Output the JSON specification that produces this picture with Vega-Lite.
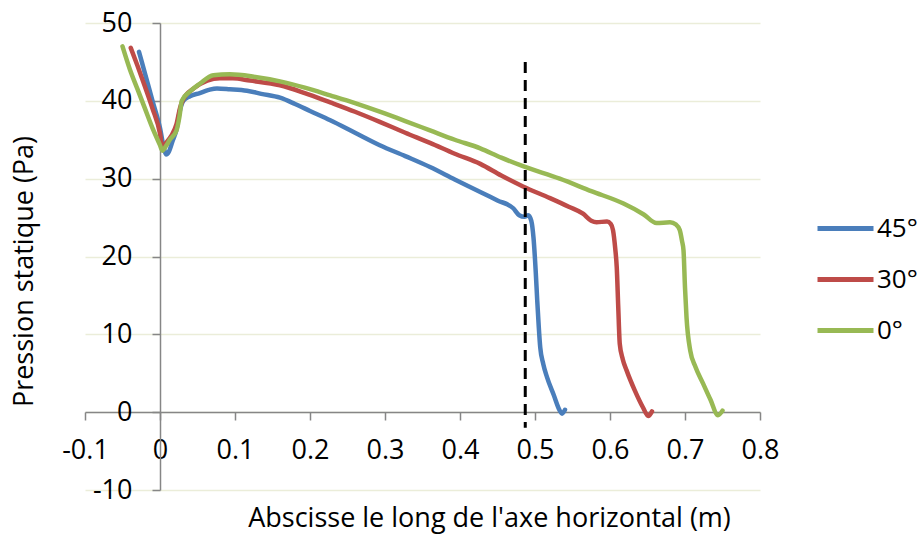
{
  "$schema": "https://vega.github.io/schema/vega-lite/v6.json",
  "width": 675,
  "height": 467,
  "autosize": {"type": "none"},
  "padding": {"left": 85, "top": 23, "right": 157, "bottom": 48},
  "background": "white",
  "config": {
    "view": {"stroke": null},
    "font": "Open Sans",
    "axis": {"labelFont": "Open Sans", "titleFont": "Open Sans", "labelFontSize": 27, "titleFontSize": 27, "labelColor": "#000000", "titleColor": "#000000", "titleFontWeight": "normal", "domainColor": "#868686", "tickColor": "#868686", "domainWidth": 1.5, "tickWidth": 1.5, "tickSize": 8, "gridColor": "#EBEDD9", "gridWidth": 1.5},
    "legend": {"labelFont": "Open Sans", "labelFontSize": 26, "labelColor": "#000000"}
  },
  "datasets": {
    "curves": [
      {"x": -0.028, "p": 46.3, "angle": "45°"},
      {"x": -0.02, "p": 43.5, "angle": "45°"},
      {"x": -0.01, "p": 40.0, "angle": "45°"},
      {"x": 0.0, "p": 36.5, "angle": "45°"},
      {"x": 0.005, "p": 34.0, "angle": "45°"},
      {"x": 0.008, "p": 33.1, "angle": "45°"},
      {"x": 0.012, "p": 33.5, "angle": "45°"},
      {"x": 0.017, "p": 34.9, "angle": "45°"},
      {"x": 0.022, "p": 36.3, "angle": "45°"},
      {"x": 0.026, "p": 38.5, "angle": "45°"},
      {"x": 0.031, "p": 40.0, "angle": "45°"},
      {"x": 0.04, "p": 40.6, "angle": "45°"},
      {"x": 0.053, "p": 41.0, "angle": "45°"},
      {"x": 0.065, "p": 41.4, "angle": "45°"},
      {"x": 0.076, "p": 41.6, "angle": "45°"},
      {"x": 0.093, "p": 41.5, "angle": "45°"},
      {"x": 0.116, "p": 41.3, "angle": "45°"},
      {"x": 0.135, "p": 40.9, "angle": "45°"},
      {"x": 0.16, "p": 40.4, "angle": "45°"},
      {"x": 0.18, "p": 39.6, "angle": "45°"},
      {"x": 0.2, "p": 38.7, "angle": "45°"},
      {"x": 0.227, "p": 37.5, "angle": "45°"},
      {"x": 0.26, "p": 35.9, "angle": "45°"},
      {"x": 0.293, "p": 34.3, "angle": "45°"},
      {"x": 0.327, "p": 32.9, "angle": "45°"},
      {"x": 0.36, "p": 31.5, "angle": "45°"},
      {"x": 0.393, "p": 29.9, "angle": "45°"},
      {"x": 0.427, "p": 28.3, "angle": "45°"},
      {"x": 0.45, "p": 27.2, "angle": "45°"},
      {"x": 0.471, "p": 26.2, "angle": "45°"},
      {"x": 0.479, "p": 25.3, "angle": "45°"},
      {"x": 0.486, "p": 25.1, "angle": "45°"},
      {"x": 0.491, "p": 25.3, "angle": "45°"},
      {"x": 0.495, "p": 24.6, "angle": "45°"},
      {"x": 0.498, "p": 22.4, "angle": "45°"},
      {"x": 0.501, "p": 18.0, "angle": "45°"},
      {"x": 0.503, "p": 14.3, "angle": "45°"},
      {"x": 0.505, "p": 11.0, "angle": "45°"},
      {"x": 0.507, "p": 8.3, "angle": "45°"},
      {"x": 0.511, "p": 6.2, "angle": "45°"},
      {"x": 0.516, "p": 4.5, "angle": "45°"},
      {"x": 0.525, "p": 2.2, "angle": "45°"},
      {"x": 0.533, "p": 0.2, "angle": "45°"},
      {"x": 0.536, "p": -0.2, "angle": "45°"},
      {"x": 0.54, "p": 0.3, "angle": "45°"},
      {"x": -0.039, "p": 46.8, "angle": "30°"},
      {"x": -0.03, "p": 44.5, "angle": "30°"},
      {"x": -0.02, "p": 41.8, "angle": "30°"},
      {"x": -0.01, "p": 39.0, "angle": "30°"},
      {"x": 0.0, "p": 35.8, "angle": "30°"},
      {"x": 0.003, "p": 34.1, "angle": "30°"},
      {"x": 0.008, "p": 34.6, "angle": "30°"},
      {"x": 0.015, "p": 35.5, "angle": "30°"},
      {"x": 0.022, "p": 37.0, "angle": "30°"},
      {"x": 0.027, "p": 39.2, "angle": "30°"},
      {"x": 0.031, "p": 40.2, "angle": "30°"},
      {"x": 0.045, "p": 41.6, "angle": "30°"},
      {"x": 0.063, "p": 42.6, "angle": "30°"},
      {"x": 0.08, "p": 42.9, "angle": "30°"},
      {"x": 0.097, "p": 42.9, "angle": "30°"},
      {"x": 0.12, "p": 42.6, "angle": "30°"},
      {"x": 0.16, "p": 42.0, "angle": "30°"},
      {"x": 0.193, "p": 41.0, "angle": "30°"},
      {"x": 0.227, "p": 39.8, "angle": "30°"},
      {"x": 0.26, "p": 38.6, "angle": "30°"},
      {"x": 0.293, "p": 37.3, "angle": "30°"},
      {"x": 0.327, "p": 35.9, "angle": "30°"},
      {"x": 0.36, "p": 34.6, "angle": "30°"},
      {"x": 0.393, "p": 33.2, "angle": "30°"},
      {"x": 0.427, "p": 31.9, "angle": "30°"},
      {"x": 0.455, "p": 30.4, "angle": "30°"},
      {"x": 0.484, "p": 29.0, "angle": "30°"},
      {"x": 0.52, "p": 27.5, "angle": "30°"},
      {"x": 0.545, "p": 26.4, "angle": "30°"},
      {"x": 0.564, "p": 25.5, "angle": "30°"},
      {"x": 0.575, "p": 24.6, "angle": "30°"},
      {"x": 0.582, "p": 24.4, "angle": "30°"},
      {"x": 0.596, "p": 24.5, "angle": "30°"},
      {"x": 0.601, "p": 24.2, "angle": "30°"},
      {"x": 0.604, "p": 23.4, "angle": "30°"},
      {"x": 0.607, "p": 21.0, "angle": "30°"},
      {"x": 0.609, "p": 18.6, "angle": "30°"},
      {"x": 0.611, "p": 13.5, "angle": "30°"},
      {"x": 0.613, "p": 8.8, "angle": "30°"},
      {"x": 0.617, "p": 6.8, "angle": "30°"},
      {"x": 0.622, "p": 5.4, "angle": "30°"},
      {"x": 0.633, "p": 2.8, "angle": "30°"},
      {"x": 0.644, "p": 0.6, "angle": "30°"},
      {"x": 0.651, "p": -0.5, "angle": "30°"},
      {"x": 0.656, "p": 0.1, "angle": "30°"},
      {"x": -0.05, "p": 47.0, "angle": "0°"},
      {"x": -0.04, "p": 44.0, "angle": "0°"},
      {"x": -0.03, "p": 41.5, "angle": "0°"},
      {"x": -0.02, "p": 39.0, "angle": "0°"},
      {"x": -0.01, "p": 36.5, "angle": "0°"},
      {"x": 0.0, "p": 34.3, "angle": "0°"},
      {"x": 0.003, "p": 33.6, "angle": "0°"},
      {"x": 0.008, "p": 34.2, "angle": "0°"},
      {"x": 0.013, "p": 35.0, "angle": "0°"},
      {"x": 0.022, "p": 36.2, "angle": "0°"},
      {"x": 0.026, "p": 38.0, "angle": "0°"},
      {"x": 0.029, "p": 40.0, "angle": "0°"},
      {"x": 0.04, "p": 41.2, "angle": "0°"},
      {"x": 0.053, "p": 42.2, "angle": "0°"},
      {"x": 0.071, "p": 43.3, "angle": "0°"},
      {"x": 0.093, "p": 43.4, "angle": "0°"},
      {"x": 0.125, "p": 43.1, "angle": "0°"},
      {"x": 0.16, "p": 42.5, "angle": "0°"},
      {"x": 0.193, "p": 41.7, "angle": "0°"},
      {"x": 0.227, "p": 40.7, "angle": "0°"},
      {"x": 0.26, "p": 39.7, "angle": "0°"},
      {"x": 0.293, "p": 38.6, "angle": "0°"},
      {"x": 0.327, "p": 37.4, "angle": "0°"},
      {"x": 0.36, "p": 36.2, "angle": "0°"},
      {"x": 0.393, "p": 35.0, "angle": "0°"},
      {"x": 0.427, "p": 33.9, "angle": "0°"},
      {"x": 0.455, "p": 32.7, "angle": "0°"},
      {"x": 0.484, "p": 31.6, "angle": "0°"},
      {"x": 0.533, "p": 30.0, "angle": "0°"},
      {"x": 0.575, "p": 28.4, "angle": "0°"},
      {"x": 0.618, "p": 26.8, "angle": "0°"},
      {"x": 0.645, "p": 25.4, "angle": "0°"},
      {"x": 0.662, "p": 24.3, "angle": "0°"},
      {"x": 0.68, "p": 24.4, "angle": "0°"},
      {"x": 0.688, "p": 24.1, "angle": "0°"},
      {"x": 0.693, "p": 23.4, "angle": "0°"},
      {"x": 0.696, "p": 22.0, "angle": "0°"},
      {"x": 0.698, "p": 20.8, "angle": "0°"},
      {"x": 0.7, "p": 16.0, "angle": "0°"},
      {"x": 0.702, "p": 12.2, "angle": "0°"},
      {"x": 0.707, "p": 7.9, "angle": "0°"},
      {"x": 0.714, "p": 5.8, "angle": "0°"},
      {"x": 0.724, "p": 3.7, "angle": "0°"},
      {"x": 0.734, "p": 1.6, "angle": "0°"},
      {"x": 0.744, "p": -0.4, "angle": "0°"},
      {"x": 0.75, "p": 0.2, "angle": "0°"}
    ],
    "marker": [
      {"x": 0.487, "top": 45, "bottom": -2}
    ]
  },
  "layer": [
    {
      "data": {"name": "curves"},
      "mark": {"type": "line", "strokeWidth": 4.5, "strokeCap": "round", "strokeJoin": "round", "interpolate": "monotone"},
      "encoding": {
        "x": {
          "field": "x", "type": "quantitative",
          "scale": {"domain": [-0.1, 0.8], "nice": false, "zero": false},
          "axis": {
            "title": "Abscisse le long de l'axe horizontal (m)",
            "values": [-0.1, 0, 0.1, 0.2, 0.3, 0.4, 0.5, 0.6, 0.7, 0.8],
            "labelExpr": "'' + datum.value",
            "offset": -78,
            "grid": false,
            "labelBaseline": "alphabetic",
            "labelPadding": 38,
            "labelFlush": false,
            "labelOverlap": false,
            "titleBaseline": "alphabetic",
            "titleX": 404,
            "titleY": 114
          }
        },
        "y": {
          "field": "p", "type": "quantitative",
          "scale": {"domain": [-10, 50], "nice": false, "zero": false},
          "axis": {
            "title": "Pression statique (Pa)",
            "values": [-10, 0, 10, 20, 30, 40, 50],
            "labelExpr": "'' + datum.value",
            "offset": -75,
            "grid": true,
            "labelPadding": 20,
            "labelFlush": false,
            "labelOverlap": false,
            "titleAngle": -90,
            "titleBaseline": "bottom",
            "titleX": -122,
            "titleY": 248
          }
        },
        "color": {
          "field": "angle", "type": "nominal",
          "scale": {"domain": ["45°", "30°", "0°"], "range": ["#4A7EBB", "#BE4B48", "#98B954"]},
          "legend": {
            "title": null,
            "orient": "none",
            "legendX": 730,
            "legendY": 175,
            "symbolType": "stroke",
            "symbolSize": 3136,
            "symbolStrokeWidth": 5,
            "labelOffset": 1,
            "rowPadding": 7
          }
        }
      }
    },
    {
      "data": {"name": "marker"},
      "mark": {"type": "rule", "color": "#000000", "strokeWidth": 3, "strokeDash": [11, 7]},
      "encoding": {
        "x": {"field": "x", "type": "quantitative"},
        "y": {"field": "top", "type": "quantitative"},
        "y2": {"field": "bottom"}
      }
    }
  ]
}
